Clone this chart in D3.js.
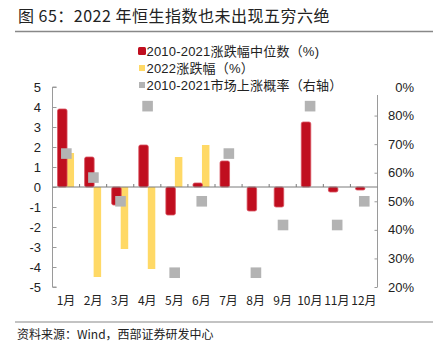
<!DOCTYPE html>
<html><head><meta charset="utf-8">
<script src="https://cdn.jsdelivr.net/npm/d3@7"></script>
<style>body{margin:0;background:#fff}svg{display:block}text{font-family:"Liberation Sans",Arial,"Noto Sans CJK SC",sans-serif}</style>
</head><body>
<svg id="c" width="433" height="343"></svg>
<script>
const months = ["1月","2月","3月","4月","5月","6月","7月","8月","9月","10月","11月","12月"];
const median = [3.9,1.5,-0.9,2.1,-1.4,0.2,1.3,-1.2,-1.0,3.25,-0.25,-0.15];
const y2022 = [1.7,-4.5,-3.1,-4.1,1.5,2.1,null,null,null,null,null,null];
const upProb = [66.7,58.3,50,83.3,25,50,66.7,25,41.7,83.3,41.7,50];
const leftTicks = [5,4,3,2,1,0,-1,-2,-3,-4,-5];
const rightTicks = [90,80,70,60,50,40,30,20];
const rightTickLabels = ["0%","80%","70%","60%","50%","40%","30%","20%"];
const legendLabels = ["2010-2021涨跌幅中位数（%)","2022涨跌幅（%）","2010-2021市场上涨概率（右轴）"];
const colors = {red:"#C00E1F", yellow:"#FFD966", gray:"#B3B3B3"};
const titleText = "图 65：2022 年恒生指数也未出现五穷六绝";
const sourceText = "资料来源：Wind，西部证券研发中心";

const svg = d3.select("#c");
const L = 52.5, R = 377.5, T = 87, B = 287;
const x = d3.scaleBand().domain(months).range([L, R]);
const y = d3.scaleLinear().domain([-5,5]).range([B, T]);
const y2 = d3.scaleLinear().domain([20,90]).range([B, T]);
const axisColor = "#9a9a9a";

// title
svg.append("text").attr("x",18).attr("y",22).attr("font-size",16).attr("fill","#222")
  .attr("letter-spacing",0.5).style("font-family",'"Noto Sans CJK SC",sans-serif').text(titleText);
svg.append("line").attr("x1",15).attr("x2",433).attr("y1",31.5).attr("y2",31.5).attr("stroke","#888").attr("stroke-width",1.5);
svg.append("line").attr("x1",15).attr("x2",433).attr("y1",322).attr("y2",322).attr("stroke","#888").attr("stroke-width",1.2);
svg.append("text").attr("x",17).attr("y",339).attr("font-size",12).attr("fill","#222")
  .style("font-family",'"Noto Sans CJK SC",sans-serif').text(sourceText);

// left axis
const gl = svg.append("g").attr("transform",`translate(${L},0)`)
  .call(d3.axisRight(y).tickValues(leftTicks).tickSize(4).tickFormat(""));
gl.selectAll("path,line").attr("stroke",axisColor);
gl.select(".domain").attr("d",`M4,${T}H0V${B}H4`);
leftTicks.forEach(v=>{
  svg.append("text").attr("x",41).attr("y",y(v)+4.5).attr("text-anchor","end")
    .attr("font-size",13).attr("fill","#222").text(v);
});

// right axis
const gr = svg.append("g").attr("transform",`translate(${R},0)`)
  .call(d3.axisLeft(y2).tickValues(rightTicks.slice(1)).tickSize(3).tickFormat(""));
gr.selectAll("path,line").attr("stroke",axisColor);
gr.select(".domain").attr("d",`M0,95V${B}`);
rightTicks.forEach((v,i)=>{
  svg.append("text").attr("x",414).attr("y",y2(v)+4.5).attr("text-anchor","end")
    .attr("font-size",13).attr("fill","#222").text(rightTickLabels[i]);
});

// bars
const bars = svg.append("g");
bars.selectAll(".yb").data(months.map((m,i)=>({m,v:y2022[i]})).filter(d=>d.v!=null))
  .join("rect").attr("x",d=>x(d.m)+x.bandwidth()/2+0.5).attr("width",7.5)
  .attr("y",d=>Math.min(y(d.v),y(0))).attr("height",d=>Math.abs(y(d.v)-y(0)))
  .attr("fill",colors.yellow);
bars.selectAll(".rb").data(months.map((m,i)=>({m,v:median[i]})))
  .join("rect").attr("x",d=>x(d.m)+x.bandwidth()/2-8.5).attr("width",9.5)
  .attr("y",d=>Math.min(y(d.v),y(0))).attr("height",d=>Math.abs(y(d.v)-y(0)))
  .attr("rx",1.8).attr("fill",colors.red).attr("stroke","#D85060").attr("stroke-width",0.8);

// zero line + ticks
svg.append("line").attr("x1",L).attr("x2",R).attr("y1",y(0)).attr("y2",y(0)).attr("stroke","#7a7a7a").attr("stroke-width",1);
months.slice(1).forEach(m=>{
  svg.append("line").attr("x1",x(m)).attr("x2",x(m)).attr("y1",y(0)-3).attr("y2",y(0)).attr("stroke","#7a7a7a");
});

// probability markers
svg.append("g").selectAll("rect").data(months.map((m,i)=>({m,v:upProb[i]})))
  .join("rect").attr("x",d=>x(d.m)+x.bandwidth()/2-5).attr("y",d=>y2(d.v)-5.3)
  .attr("width",10.6).attr("height",10.6).attr("fill",colors.gray);

// x labels
months.forEach(m=>{
  svg.append("text").attr("x",x(m)+x.bandwidth()/2).attr("y",305).attr("text-anchor","middle")
    .attr("font-size",12).attr("fill","#222").style("font-family",'"Noto Sans CJK SC",sans-serif').text(m);
});

// legend
const lg = svg.append("g");
const swatch = [{c:colors.red,s:8},{c:colors.yellow,s:6},{c:colors.gray,s:6}];
legendLabels.forEach((t,i)=>{
  const cy = 51 + i*17;
  const s = swatch[i].s;
  lg.append("rect").attr("x",142-s/2).attr("y",cy-s/2).attr("width",s).attr("height",s)
    .attr("rx",i===0?1.5:0).attr("fill",swatch[i].c);
  lg.append("text").attr("x",146.5).attr("y",cy+4.5).attr("font-size",13).attr("letter-spacing",0.2)
    .attr("fill","#222").text(t);
});
</script>
</body></html>
